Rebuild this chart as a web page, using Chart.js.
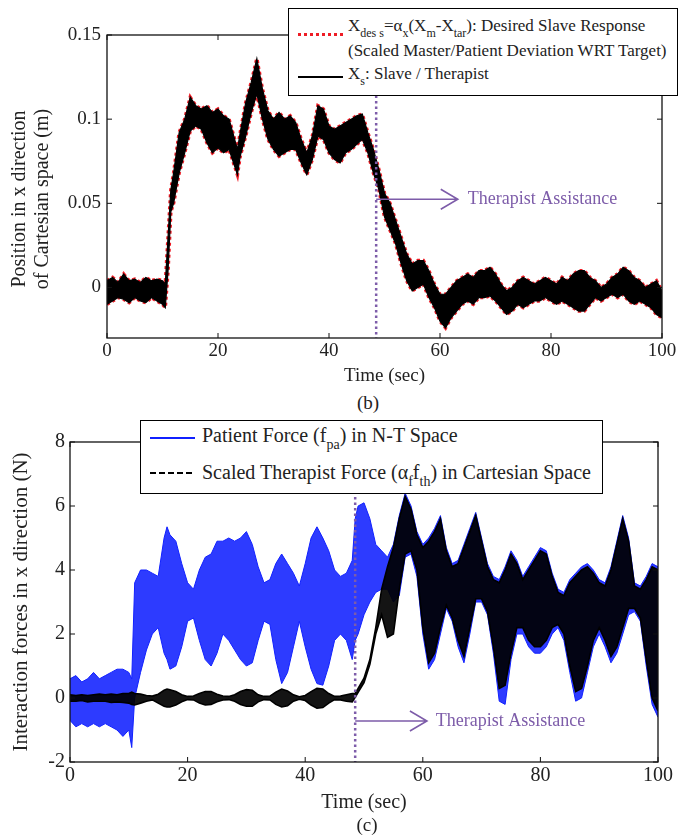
<!DOCTYPE html>
<html>
<head>
<meta charset="utf-8">
<title>Slave position and interaction forces</title>
<script src="https://cdn.jsdelivr.net/npm/chart.js@4.4.1/dist/chart.umd.min.js"></script>
<style>
    body { margin: 0; background: #fff; }
    #page { position: relative; width: 679px; height: 837px; font-family: 'Liberation Serif', 'Times New Roman', serif; color: #222; }
    .panel { position: absolute; left: 0; width: 679px; }
    .caption { position: absolute; width: 60px; margin-left: -30px; text-align: center; font-size: 19px; line-height: 22px; }
    .legend { position: absolute; background: #fff; border: 1px solid #000; box-sizing: border-box; }
    .legend .row { position: absolute; white-space: nowrap; }
    .legend .sb { position: relative; }
    .legend .sample { position: absolute; width: 45px; }
    #posLegend { font-size: 17px; }
    #posLegend .row { line-height: 20px; }
    #posLegend .sb { font-size: 12px; top: 6px; }
    #forceLegend { font-size: 20px; }
    #forceLegend .row { line-height: 24px; }
    #forceLegend .sb { font-size: 14px; top: 7px; }
</style>
</head>
<body>
<div id="page">
    <div class="panel" style="top:0;height:390px"><canvas id="positionChart"></canvas></div>
    <div class="caption" style="left:368px;top:392px">(b)</div>
    <div class="panel" style="top:415px;height:422px"><canvas id="forceChart"></canvas></div>
    <div class="caption" style="left:367px;top:814px">(c)</div>

    <!-- legends are HTML so the subscripts stay real text -->
    <div class="legend" id="posLegend" style="left:288px;top:8px;width:390px;height:88px">
        <span class="sample" style="left:9px;top:24px;height:3px;background:repeating-linear-gradient(90deg,#ee1c25 0 3px,transparent 3px 6px)"></span>
        <div class="row" style="left:59px;top:7px">X<span class="sb">des s</span>=α<span class="sb">x</span>(X<span class="sb">m</span>-X<span class="sb">tar</span>): Desired Slave Response</div>
        <div class="row" style="left:59px;top:32px">(Scaled Master/Patient Deviation WRT Target)</div>
        <span class="sample" style="left:9px;top:67px;height:2px;background:#000"></span>
        <div class="row" style="left:59px;top:55px">X<span class="sb">s</span>: Slave / Therapist</div>
    </div>
    <div class="legend" id="forceLegend" style="left:140px;top:420px;width:463px;height:74px">
        <span class="sample" style="left:9px;top:16px;height:1.5px;background:#1020ff"></span>
        <div class="row" style="left:61px;top:2px">Patient Force (f<span class="sb">pa</span>) in N-T Space</div>
        <span class="sample" style="left:9px;top:51px;height:2px;background:repeating-linear-gradient(90deg,#000 0 6px,transparent 6px 9px)"></span>
        <div class="row" style="left:61px;top:39px">Scaled Therapist Force (α<span class="sb">f</span>f<span class="sb">th</span>) in Cartesian Space</div>
    </div>
</div>

<script>
// ---- data (envelopes of the dense traces) ----

// therapist assistance switched on at this time (sec)
const assistStart = 48.5;

// (b) position in x direction (m)
const timeTop = [0, 1, 2, 3, 4, 5, 6, 7, 8, 9, 10, 10.5, 11, 11.5, 12, 13, 14, 15, 16, 17, 18, 19, 20, 21, 22, 23, 23.5, 24, 25,
    26, 27, 28, 29, 30, 31, 32, 33, 34, 35, 36, 37, 38, 39, 40, 41, 42, 43, 44, 45, 46, 47, 48, 49, 50, 51, 52, 53, 54, 55,
    56, 57, 58, 59, 60, 61, 62, 63, 64, 65, 66, 67, 68, 69, 70, 71, 72, 73, 74, 75, 76, 77, 78, 79, 80, 81, 82, 83, 84, 85,
    86, 87, 88, 89, 90, 91, 92, 93, 94, 95, 96, 97, 98, 99, 100];
const slaveUpper = [0.004, 0.006, 0.003, 0.008, 0.004, 0.005, 0.003, 0.006, 0.004, 0.005, 0.004, 0.002, 0.030, 0.058, 0.068,
    0.092, 0.100, 0.113, 0.108, 0.106, 0.108, 0.104, 0.106, 0.102, 0.100, 0.088, 0.082, 0.092, 0.110, 0.122, 0.136, 0.118,
    0.105, 0.100, 0.104, 0.100, 0.102, 0.098, 0.088, 0.080, 0.090, 0.108, 0.106, 0.096, 0.094, 0.096, 0.098, 0.100, 0.102,
    0.103, 0.092, 0.082, 0.070, 0.056, 0.050, 0.040, 0.030, 0.020, 0.014, 0.016, 0.016, 0.010, 0.002, -0.004, -0.004, 0.000,
    0.004, 0.006, 0.008, 0.006, 0.010, 0.010, 0.012, 0.008, 0.002, -0.002, 0.000, 0.004, 0.006, 0.004, 0.002, 0.004, 0.006,
    0.004, 0.002, 0.006, 0.004, 0.008, 0.010, 0.010, 0.006, 0.004, 0.000, 0.002, 0.006, 0.008, 0.012, 0.010, 0.006, 0.004,
    0.000, 0.002, 0.004, -0.002];
const slaveLower = [-0.010, -0.008, -0.006, -0.007, -0.009, -0.006, -0.008, -0.009, -0.006, -0.008, -0.010, -0.012, 0.010,
    0.045, 0.050, 0.068, 0.080, 0.093, 0.096, 0.094, 0.086, 0.080, 0.083, 0.080, 0.082, 0.072, 0.067, 0.078, 0.090, 0.104,
    0.115, 0.100, 0.088, 0.082, 0.078, 0.080, 0.082, 0.082, 0.074, 0.067, 0.076, 0.090, 0.088, 0.080, 0.076, 0.074, 0.080,
    0.082, 0.085, 0.088, 0.080, 0.068, 0.058, 0.042, 0.034, 0.026, 0.014, 0.004, -0.002, 0.000, 0.002, -0.006, -0.012, -0.020,
    -0.024, -0.018, -0.014, -0.010, -0.008, -0.010, -0.006, -0.006, -0.005, -0.008, -0.012, -0.016, -0.014, -0.010, -0.012,
    -0.010, -0.008, -0.008, -0.006, -0.008, -0.010, -0.008, -0.010, -0.012, -0.014, -0.014, -0.010, -0.006, -0.008, -0.006,
    -0.004, -0.006, -0.004, -0.008, -0.010, -0.008, -0.010, -0.012, -0.016, -0.018];
// the desired slave response lies on top of the slave trace
const desiredUpper = slaveUpper;
const desiredLower = slaveLower;

// (c) interaction forces in x direction (N)
const timeBottom = [0, 1, 2, 3, 4, 5, 6, 7, 8, 9, 10, 10.5, 11, 12, 13, 14, 15, 16, 16.5, 17, 18, 19, 20, 21, 22, 23, 24, 25,
    26, 27, 28, 29, 30, 31, 32, 33, 34, 35, 36, 37, 38, 39, 40, 41, 42, 43, 44, 45, 46, 47, 48, 48.5, 49, 50, 51, 52, 53, 54,
    55, 56, 57, 58, 59, 60, 61, 62, 63, 64, 65, 66, 67, 68, 69, 70, 71, 72, 73, 74, 75, 76, 77, 78, 79, 80, 81, 82, 83, 84,
    85, 86, 87, 88, 89, 90, 91, 92, 93, 94, 95, 96, 97, 98, 99, 100];
const patientUpper = [0.6, 0.7, 0.5, 0.6, 0.8, 0.6, 0.7, 0.8, 0.9, 0.9, 0.8, 0.6, 3.6, 4.0, 4.0, 3.9, 3.8, 5.0, 5.35, 5.1,
    4.9, 4.2, 3.6, 3.4, 4.0, 4.4, 4.5, 4.9, 4.9, 5.0, 4.9, 5.0, 5.2, 4.8, 4.1, 3.6, 3.7, 4.2, 4.5, 4.2, 3.9, 3.5, 4.2, 5.0,
    5.35, 5.0, 4.6, 4.0, 3.8, 3.9, 4.3, 5.6, 6.0, 6.1, 5.6, 4.8, 4.6, 4.4, 4.8, 5.7, 6.4, 6.0, 5.2, 4.8, 5.0, 5.3, 5.7, 4.7,
    4.2, 4.3, 4.8, 5.3, 5.8, 5.0, 4.2, 3.8, 3.7, 4.1, 4.6, 4.3, 3.8, 4.1, 4.4, 4.7, 4.6, 3.9, 3.4, 3.3, 3.7, 3.9, 4.1, 4.2,
    4.0, 3.7, 3.6, 4.1, 4.9, 5.7, 5.0, 3.6, 3.5, 3.8, 4.2, 4.1];
const patientLower = [-0.7, -0.9, -0.8, -0.9, -0.8, -0.9, -0.8, -0.9, -1.0, -1.2, -1.0, -1.55, 0.0, 0.8, 1.5, 2.0, 2.2, 1.4,
    1.2, 0.9, 1.0, 1.6, 2.4, 2.5, 1.8, 1.2, 1.0, 1.4, 2.0, 1.8, 1.5, 1.2, 1.0, 1.1, 1.8, 2.4, 2.3, 1.2, 0.45, 0.8, 1.6, 2.4,
    1.6, 0.9, 0.45, 0.4, 1.0, 1.8, 2.0, 1.8, 1.2, 1.8, 2.0, 2.6, 3.0, 3.3, 3.4, 3.4, 3.0, 3.2, 4.4, 4.5, 3.8, 2.0, 0.9, 1.2,
    2.0, 2.8, 2.4, 1.6, 1.1, 2.0, 3.0, 3.0, 2.6, 1.4, -0.1, -0.2, 1.2, 2.0, 2.0, 1.6, 1.4, 1.4, 1.6, 2.0, 2.2, 1.8, 0.8, -0.1,
    0.0, 0.8, 1.6, 2.0, 1.6, 1.1, 1.4, 2.0, 2.6, 2.7, 2.4, 1.0, -0.2, -0.6];
const therapistUpper = [0.10, 0.08, 0.10, 0.08, 0.10, 0.12, 0.10, 0.12, 0.10, 0.14, 0.14, 0.18, 0.14, 0.12, 0.08, 0.06, 0.12,
    0.24, 0.28, 0.26, 0.20, 0.10, 0.05, 0.06, 0.14, 0.20, 0.20, 0.12, 0.06, 0.05, 0.10, 0.20, 0.26, 0.24, 0.10, 0.05, 0.06,
    0.18, 0.28, 0.22, 0.10, 0.04, 0.08, 0.20, 0.30, 0.28, 0.14, 0.05, 0.06, 0.10, 0.14, 0.14, 0.30, 0.62, 1.20, 2.20, 3.40,
    4.10, 4.70, 5.60, 6.30, 5.90, 5.10, 4.70, 4.90, 5.20, 5.60, 4.60, 4.10, 4.20, 4.70, 5.20, 5.70, 4.90, 4.10, 3.70, 3.60,
    4.00, 4.50, 4.20, 3.70, 4.00, 4.30, 4.60, 4.50, 3.80, 3.30, 3.20, 3.60, 3.80, 4.00, 4.10, 3.90, 3.60, 3.50, 4.00, 4.80,
    5.60, 4.90, 3.50, 3.40, 3.70, 4.10, 4.00];
const therapistLower = [-0.10, -0.10, -0.08, -0.12, -0.10, -0.10, -0.10, -0.14, -0.12, -0.14, -0.16, -0.20, -0.22, -0.16,
    -0.10, -0.06, -0.16, -0.26, -0.28, -0.28, -0.22, -0.12, -0.05, -0.06, -0.16, -0.22, -0.20, -0.12, -0.06, -0.05, -0.10,
    -0.20, -0.26, -0.26, -0.12, -0.05, -0.06, -0.20, -0.28, -0.24, -0.10, -0.04, -0.08, -0.22, -0.32, -0.30, -0.16, -0.05,
    -0.06, -0.10, -0.12, 0.02, 0.18, 0.48, 1.05, 2.00, 2.60, 1.90, 2.00, 3.40, 4.50, 4.60, 4.00, 2.20, 1.10, 1.40, 2.20, 2.90,
    2.50, 1.80, 1.30, 2.20, 3.10, 3.10, 2.70, 1.60, 0.30, 0.40, 1.40, 2.20, 2.20, 1.80, 1.60, 1.60, 1.80, 2.20, 2.30, 2.00,
    1.00, 0.20, 0.30, 1.00, 1.80, 2.20, 1.80, 1.30, 1.60, 2.20, 2.80, 2.80, 2.50, 1.20, 0.00, -0.40];

// ---- chart setup ----
Chart.defaults.font.family = "'Liberation Serif', 'Times New Roman', serif";
Chart.defaults.font.size = 19;
Chart.defaults.color = '#222';

const PURPLE = '#7d5ca9';

function toPoints(times, values) {
    return times.map((t, i) => ({ x: t, y: values[i] }));
}

// MATLAB-like box with inward ticks, plus the "Therapist Assistance" marker
const frameAndMarker = {
    id: 'frameAndMarker',
    afterDatasetsDraw(chart, args, opts) {
        const { ctx, chartArea: a, scales: { x, y } } = chart;
        ctx.save();

        // dotted vertical marker
        const mx = x.getPixelForValue(opts.markerAt);
        ctx.strokeStyle = PURPLE;
        ctx.lineWidth = 2.5;
        ctx.setLineDash([2.5, 3]);
        ctx.beginPath();
        ctx.moveTo(mx, a.top);
        ctx.lineTo(mx, a.bottom);
        ctx.stroke();
        ctx.setLineDash([]);

        // arrow + label
        const ay = y.getPixelForValue(opts.arrowY);
        const ax = x.getPixelForValue(opts.arrowEnd);
        ctx.lineWidth = 1.6;
        ctx.beginPath();
        ctx.moveTo(mx, ay);
        ctx.lineTo(ax, ay);
        ctx.moveTo(ax - 17, ay - 10);
        ctx.lineTo(ax, ay);
        ctx.lineTo(ax - 17, ay + 10);
        ctx.stroke();
        ctx.fillStyle = PURPLE;
        ctx.font = "18px 'Liberation Serif', 'Times New Roman', serif";
        ctx.textBaseline = 'middle';
        ctx.textAlign = 'left';
        ctx.fillText('Therapist Assistance', x.getPixelForValue(opts.textAt), ay);

        // axes box
        ctx.strokeStyle = '#111';
        ctx.lineWidth = 1.3;
        ctx.strokeRect(a.left, a.top, a.right - a.left, a.bottom - a.top);

        // inward tick marks on all four sides
        ctx.lineWidth = 1;
        ctx.beginPath();
        x.ticks.forEach(t => {
            const p = x.getPixelForValue(t.value);
            ctx.moveTo(p, a.bottom); ctx.lineTo(p, a.bottom - 5);
            ctx.moveTo(p, a.top); ctx.lineTo(p, a.top + 5);
        });
        y.ticks.forEach(t => {
            const p = y.getPixelForValue(t.value);
            ctx.moveTo(a.left, p); ctx.lineTo(a.left + 5, p);
            ctx.moveTo(a.right, p); ctx.lineTo(a.right - 5, p);
        });
        ctx.stroke();
        ctx.restore();
    }
};

function timeAxis(height, fontSize, tickPad) {
    return {
        type: 'linear',
        min: 0,
        max: 100,
        ticks: { stepSize: 20, padding: tickPad, font: { size: fontSize } },
        grid: { display: false, drawTicks: false },
        border: { display: false },
        title: { display: true, text: 'Time (sec)', font: { size: fontSize }, padding: { top: 0, bottom: fontSize === 19 ? 2.6 : 2 } },
        afterFit: scale => { scale.height = height; }
    };
}

function bandLine(values, times, color, width, extra) {
    return Object.assign({
        data: toPoints(times, values),
        borderColor: color,
        borderWidth: width,
        pointRadius: 0,
        tension: 0,
        fill: false
    }, extra || {});
}

// (b) position chart
new Chart(document.getElementById('positionChart'), {
    type: 'line',
    data: {
        datasets: [
            bandLine(desiredUpper, timeTop, '#ee1c25', 3.5, { borderDash: [3, 3], order: 2 }),
            bandLine(desiredLower, timeTop, '#ee1c25', 3.5, { borderDash: [3, 3], order: 2 }),
            bandLine(slaveLower, timeTop, '#000', 1.2, { order: 1 }),
            bandLine(slaveUpper, timeTop, '#000', 1.2, { order: 1, fill: '-1', backgroundColor: '#000' })
        ]
    },
    options: {
        responsive: true,
        maintainAspectRatio: false,
        animation: false,
        layout: { padding: { top: 35, right: 17, bottom: 0, left: 0 } },
        plugins: {
            legend: { display: false },
            tooltip: { enabled: false },
            frameAndMarker: { markerAt: assistStart, arrowY: 0.0524, arrowEnd: 63.2, textAt: 65 }
        },
        scales: {
            x: timeAxis(52, 19, 2),
            y: {
                min: -0.03,
                max: 0.15,
                ticks: {
                    stepSize: 0.05,
                    includeBounds: false,
                    padding: 6,
                    callback: value => String(Number(value.toFixed(3)))
                },
                grid: { display: false, drawTicks: false },
                border: { display: false },
                title: {
                    display: true,
                    // trailing spaces nudge the rotated title down to where the figure has it
                    text: ['Position in x direction     ', 'of Cartesian space (m)     '],
                    font: { size: 20, lineHeight: 1.15 },
                    padding: { top: 8.5, bottom: 0 }
                },
                afterFit: scale => { scale.width = 107; }
            }
        }
    },
    plugins: [frameAndMarker]
});

// (c) interaction force chart
new Chart(document.getElementById('forceChart'), {
    type: 'line',
    data: {
        datasets: [
            bandLine(patientLower, timeBottom, '#1020ff', 1, { order: 2 }),
            bandLine(patientUpper, timeBottom, '#1020ff', 1, { order: 2, fill: '-1', backgroundColor: 'rgba(16, 32, 255, 0.88)' }),
            bandLine(therapistLower, timeBottom, '#000', 1.6, { order: 1 }),
            bandLine(therapistUpper, timeBottom, '#000', 1.6, { order: 1, fill: '-1', backgroundColor: 'rgba(0, 0, 0, 0.92)' })
        ]
    },
    options: {
        responsive: true,
        maintainAspectRatio: false,
        animation: false,
        layout: { padding: { top: 27, right: 21, bottom: 20, left: 0 } },
        plugins: {
            legend: { display: false },
            tooltip: { enabled: false },
            frameAndMarker: { markerAt: assistStart, arrowY: -0.72, arrowEnd: 60.7, textAt: 62.2 }
        },
        scales: {
            x: timeAxis(55, 20, 1.5),
            y: {
                min: -2,
                max: 8,
                ticks: { stepSize: 2, padding: 5, font: { size: 20 } },
                grid: { display: false, drawTicks: false },
                border: { display: false },
                title: {
                    display: true,
                    text: 'Interaction forces in x direction (N)',
                    font: { size: 21 },
                    padding: { top: 8.4, bottom: 0 }
                },
                afterFit: scale => { scale.width = 70; }
            }
        }
    },
    plugins: [frameAndMarker]
});

console.log('Position and force charts drawn');
</script>
</body>
</html>
